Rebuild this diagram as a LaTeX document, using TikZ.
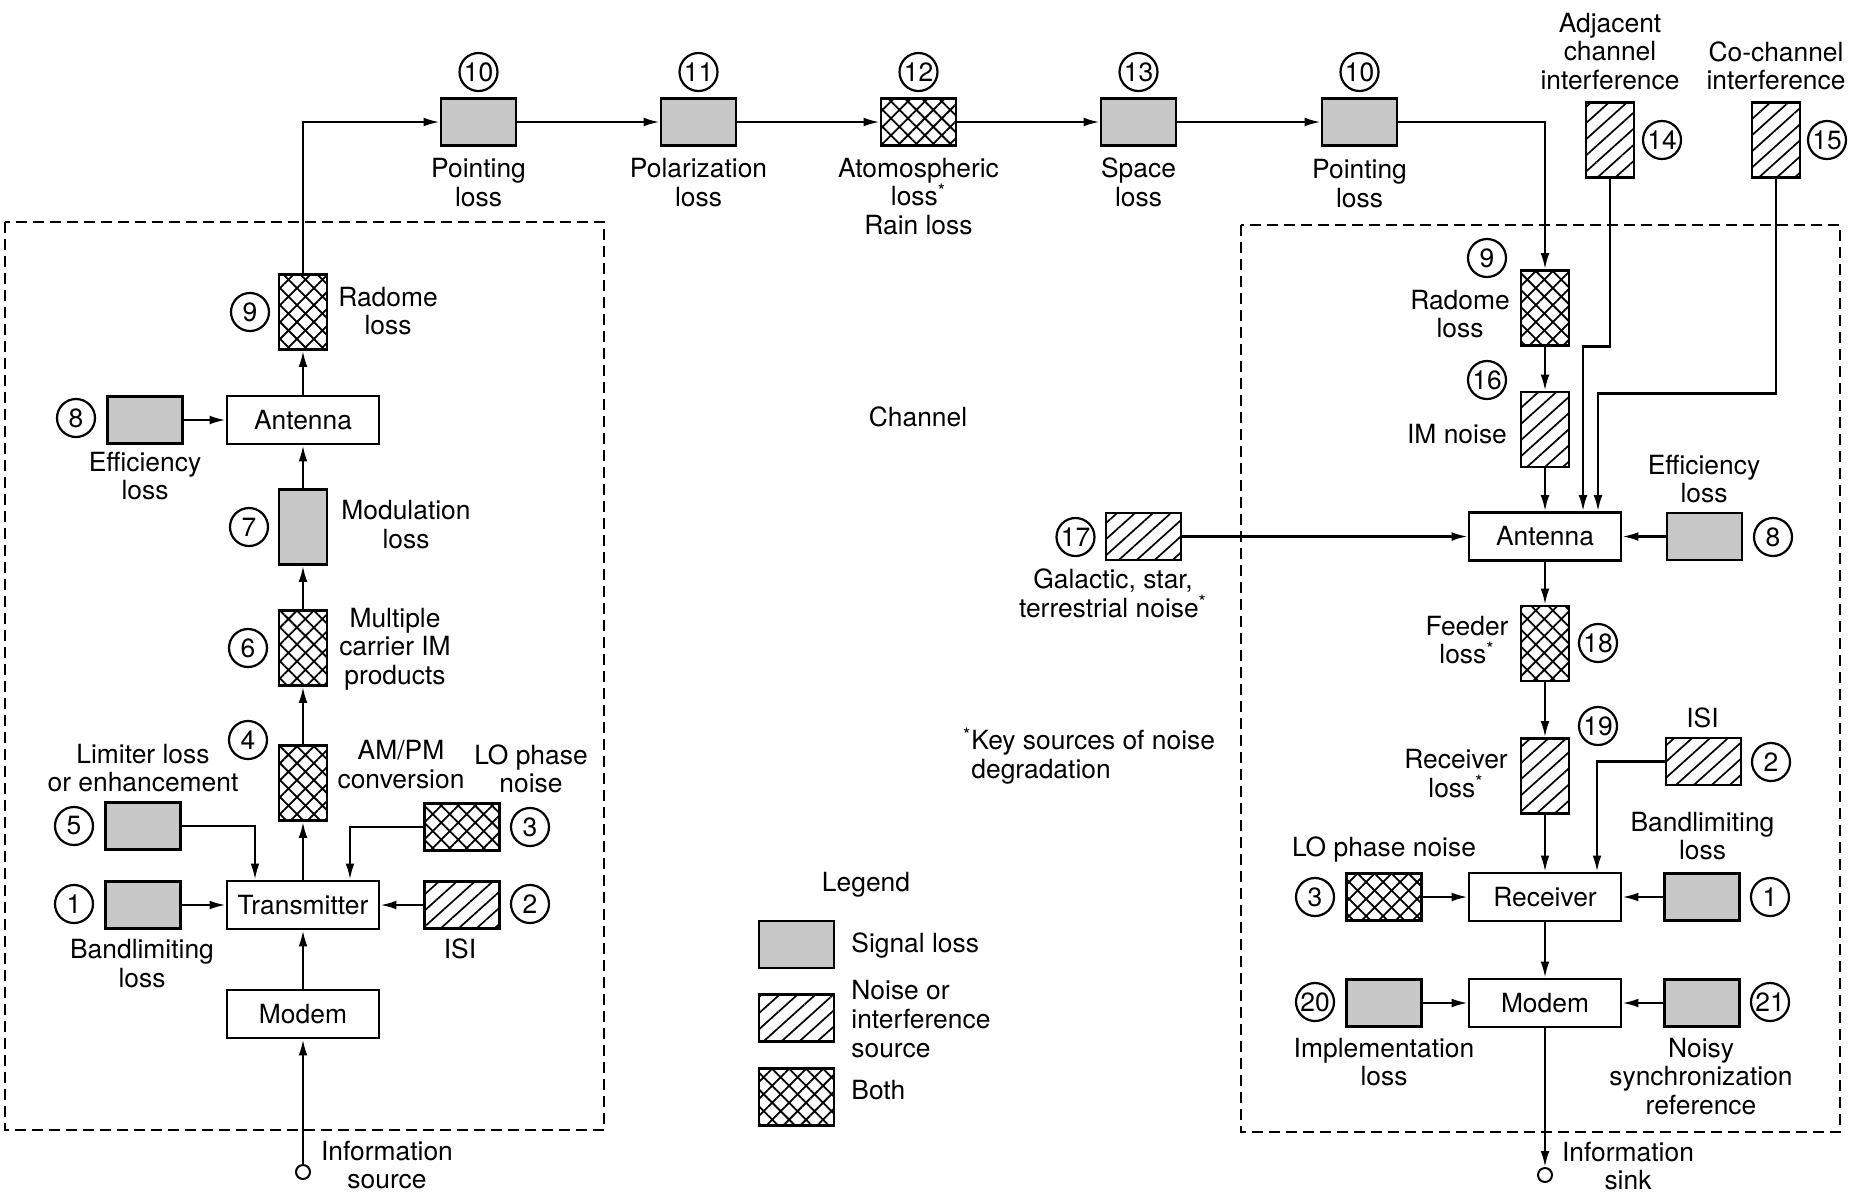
\documentclass[tikz,border=0pt]{standalone}
\usepackage{fontspec}
\setmainfont{TeX Gyre Heros}
\usetikzlibrary{arrows.meta,patterns.meta}
\begin{document}
\begin{tikzpicture}[x=0.5pt,y=-0.5pt,
  every node/.style={font=\fontsize{13.2pt}{14.3pt}\selectfont},
  sig/.style={draw, line width=1.4pt, fill=black!22, inner sep=0pt},
  noi/.style={draw, line width=1.4pt, pattern={Lines[angle=42,distance=6pt,line width=0.85pt]}, inner sep=0pt},
  both/.style={draw, line width=1.4pt, pattern={Hatch[angle=45,distance=6pt,line width=0.9pt]}, inner sep=0pt},
  hbox/.style={minimum width=37.5pt, minimum height=23.5pt},
  vbox/.style={minimum width=24pt, minimum height=37.5pt},
  blk/.style={draw, line width=1.4pt, fill=white, minimum width=76pt, minimum height=24pt, inner sep=0pt},
  num/.style={circle, draw, line width=1.1pt, minimum size=19pt, inner sep=0pt},
  lbl/.style={align=center, inner sep=0pt},
  term/.style={circle, draw, line width=1pt, minimum size=7pt, inner sep=0pt},
  conn/.style={line width=1.1pt, -{Latex[length=8pt,width=4.4pt]}},
  dbox/.style={dash pattern=on 5.5pt off 3pt, line width=0.8pt}]
\useasboundingbox (0,0) rectangle (1864,1196);
\clip (0,0) rectangle (1864,1196);
\fill[white] (0,0) rectangle (1864,1196);

% dashed enclosures
\draw[dbox] (5,222) rectangle (604,1130);
\draw[dbox] (1241,225) rectangle (1840,1132);

% ---------------- left (transmitter) side ----------------
\node[term] (src) at (303,1172) {};
\node[lbl] (lsrc) at (387,1165) {Information\\source};
\node[blk] (mod) at (303,1014) {Modem};
\node[blk] (tx) at (303,905) {Transmitter};
\node[sig,hbox] (b1) at (143,905) {};
\node[num] (n1) at (74,904) {1};
\node[lbl] (l1) at (142,963.5) {Bandlimiting\\loss};
\node[noi,hbox] (b2) at (462,905) {};
\node[num] (n2) at (530,904) {2};
\node[lbl] (l2) at (460,949) {ISI};
\node[sig,hbox] (b5) at (143,826) {};
\node[num] (n5) at (74,826) {5};
\node[lbl] (l5) at (143,768) {Limiter loss\\or enhancement};
\node[both,hbox] (b3) at (462,827) {};
\node[num] (n3) at (530,827) {3};
\node[lbl] (l3) at (531,769) {LO phase\\noise};
\node[both,vbox] (b4) at (303,783) {};
\node[num] (n4) at (248,740) {4};
\node[lbl] (l4) at (401,764.5) {AM/PM\\conversion};
\node[both,vbox] (b6) at (303,648) {};
\node[num] (n6) at (248,648) {6};
\node[lbl] (l6) at (395,649) {Multiple\\carrier IM\\products};
\node[sig,vbox] (b7) at (303,527) {};
\node[num] (n7) at (249,527) {7};
\node[lbl] (l7) at (406,524.5) {Modulation\\loss};
\node[blk] (ant) at (303,420) {Antenna};
\node[sig,hbox] (b8) at (145,420) {};
\node[num] (n8) at (76,418) {8};
\node[lbl] (l8) at (145,476) {Efficiency\\loss};
\node[both,vbox] (b9) at (303,312) {};
\node[num] (n9) at (250,312) {9};
\node[lbl] (l9) at (388,311) {Radome\\loss};

% ---------------- top row (channel) ----------------
\node[sig,hbox] (b10a) at (478.5,122) {};
\node[num] (n10a) at (478.5,72) {10};
\node[lbl] (l10a) at (478.5,182.5) {Pointing\\loss};
\node[sig,hbox] (b11) at (698.5,122) {};
\node[num] (n11) at (698.5,72) {11};
\node[lbl] (l11) at (698.5,182.5) {Polarization\\loss};
\node[both,hbox] (b12) at (918.5,122) {};
\node[num] (n12) at (918.5,72) {12};
\node[lbl] (l12) at (918.5,196.5) {Atomospheric\\loss\textsuperscript{*}\\Rain loss};
\node[sig,hbox] (b13) at (1138.5,122) {};
\node[num] (n13) at (1138.5,72) {13};
\node[lbl] (l13) at (1138.5,182.5) {Space\\loss};
\node[sig,hbox] (b10b) at (1359.5,122) {};
\node[num] (n10b) at (1359.5,72) {10};
\node[lbl] (l10b) at (1359.5,183.5) {Pointing\\loss};

\node[lbl] (chan) at (918,417) {Channel};
\node[lbl, align=left, anchor=west] (key) at (971,756) {\llap{\textsuperscript{*}}Key sources of noise\\degradation};

% legend
\node[lbl] (leg) at (866,885) {Legend};
\node[sig,hbox] (lg1) at (796.5,944.5) {};
\node[lbl,anchor=west,align=left] (lt1) at (851,945) {Signal loss};
\node[noi,hbox] (lg2) at (796.5,1018) {};
\node[lbl,anchor=west,align=left] (lt2) at (851,1019) {Noise or\\interference\\source};
\node[both,minimum width=37.5pt,minimum height=28.5pt] (lg3) at (796.5,1097) {};
\node[lbl,anchor=west,align=left] (lt3) at (851,1090) {Both};

% ---------------- right (receiver) side ----------------
\node[noi,vbox] (r14) at (1610,140) {};
\node[num] (rn14) at (1662,140) {14};
\node[lbl] (rl14) at (1610,51.5) {Adjacent\\channel\\interference};
\node[noi,vbox] (r15) at (1776,140) {};
\node[num] (rn15) at (1827,140) {15};
\node[lbl] (rl15) at (1776,66) {Co-channel\\interference};
\node[both,vbox] (r9) at (1545,308) {};
\node[num] (rn9) at (1487,258) {9};
\node[lbl] (rl9) at (1460,314) {Radome\\loss};
\node[noi,vbox] (r16) at (1545,429.5) {};
\node[num] (rn16) at (1487,380) {16};
\node[lbl] (rl16) at (1457,434) {IM noise};
\node[blk] (rant) at (1545,536.5) {Antenna};
\node[sig,hbox] (r8) at (1704.5,536.5) {};
\node[num] (rn8) at (1773,537) {8};
\node[lbl] (rl8) at (1704,479) {Efficiency\\loss};
\node[noi,hbox] (r17) at (1143.5,536.5) {};
\node[num] (rn17) at (1075.5,537) {17};
\node[lbl] (rl17) at (1113,593.5) {Galactic, star,\\terrestrial noise\textsuperscript{*}};
\node[both,vbox] (r18) at (1545,643.5) {};
\node[num] (rn18) at (1598,643) {18};
\node[lbl] (rl18) at (1467,640) {Feeder\\loss\textsuperscript{*}};
\node[noi,vbox] (r19) at (1545,776) {};
\node[num] (rn19) at (1598,726) {19};
\node[lbl] (rl19) at (1456,773.5) {Receiver\\loss\textsuperscript{*}};
\node[noi,hbox] (r2) at (1703.5,761.5) {};
\node[num] (rn2) at (1771,762) {2};
\node[lbl] (rl2) at (1702.5,718) {ISI};
\node[lbl] (rl1) at (1702.5,836) {Bandlimiting\\loss};
\node[blk] (rx) at (1545,897) {Receiver};
\node[both,hbox] (r3) at (1384,897) {};
\node[num] (rn3) at (1315,897) {3};
\node[lbl] (rl3) at (1384,850) {LO phase noise};
\node[sig,hbox] (r1) at (1702,897) {};
\node[num] (rn1) at (1770,897) {1};
\node[blk] (rmod) at (1545,1003) {Modem};
\node[sig,hbox] (r20) at (1384,1003) {};
\node[num] (rn20) at (1315,1002) {20};
\node[lbl] (rl20) at (1384,1062) {Implementation\\loss};
\node[sig,hbox] (r21) at (1702,1003) {};
\node[num] (rn21) at (1770,1002) {21};
\node[lbl] (rl21) at (1701,1076.5) {Noisy\\synchronization\\reference};
\node[term] (snk) at (1545,1175) {};
\node[lbl] (lsnk) at (1628,1166) {Information\\sink};

% ---------------- connectors ----------------
\draw[conn] (src) -- (mod);
\draw[conn] (mod) -- (tx);
\draw[conn] (b1) -- (tx);
\draw[conn] (b2) -- (tx);
\draw[conn] (b5.east) -| ([xshift=-24pt]tx.north);
\draw[conn] (b3.west) -| ([xshift=23.5pt]tx.north);
\draw[conn] (tx) -- (b4);
\draw[conn] (b4) -- (b6);
\draw[conn] (b6) -- (b7);
\draw[conn] (b7) -- (ant);
\draw[conn] (b8) -- (ant);
\draw[conn] (ant) -- (b9);
\draw[conn] (b9.north) |- (b10a.west);
\draw[conn] (b10a) -- (b11);
\draw[conn] (b11) -- (b12);
\draw[conn] (b12) -- (b13);
\draw[conn] (b13) -- (b10b);
\draw[conn] (b10b.east) -| (r9.north);
\draw[conn] (r9) -- (r16);
\draw[conn] (r16) -- (rant);
\draw[conn] (r14.south) -- ++(0,167.5) -| ([xshift=19pt]rant.north);
\draw[conn] (r15.south) -- ++(0,214.5) -| ([xshift=26.5pt]rant.north);
\draw[conn] (r17) -- (rant);
\draw[conn] (r8) -- (rant);
\draw[conn] (rant) -- (r18);
\draw[conn] (r18) -- (r19);
\draw[conn] (r19) -- (rx);
\draw[conn] (r2.west) -| ([xshift=26pt]rx.north);
\draw[conn] (r3) -- (rx);
\draw[conn] (r1) -- (rx);
\draw[conn] (rx) -- (rmod);
\draw[conn] (r20) -- (rmod);
\draw[conn] (r21) -- (rmod);
\draw[conn] (rmod) -- (snk);
\end{tikzpicture}
\end{document}
